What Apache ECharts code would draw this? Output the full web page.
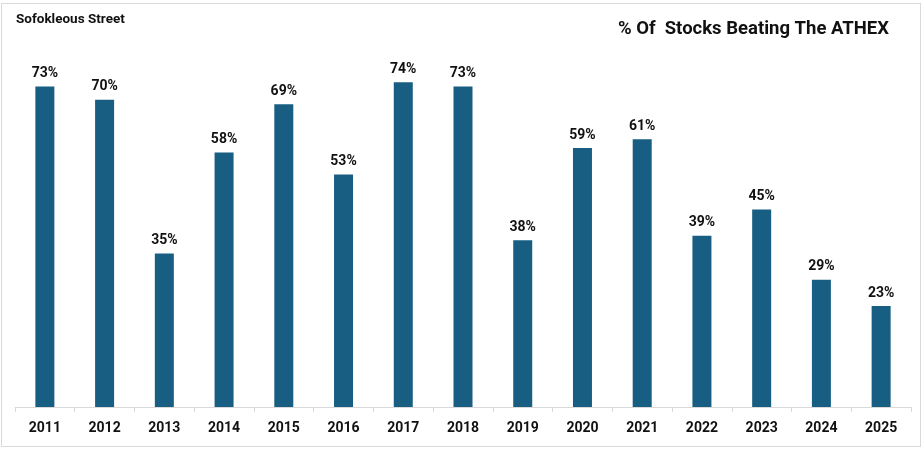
<!DOCTYPE html>
<html><head><meta charset="utf-8">
<script src="https://cdn.jsdelivr.net/npm/echarts@6/dist/echarts.min.js"></script>
<style>
html,body{margin:0;padding:0;background:#fff;}
#frame{position:absolute;left:1px;top:3px;width:918px;height:442px;border:1px solid #d9d9d9;}
#c{position:absolute;left:0;top:0;width:924px;height:449px;}
</style></head>
<body><div id="frame"></div><div id="c"></div>
<script>
const years = ['2011','2012','2013','2014','2015','2016','2017','2018','2019','2020','2021','2022','2023','2024','2025'];
const pctBeating = [73,70,35,58,69,53,74,73,38,59,61,39,45,29,23];
const sourceText = 'Sofokleous Street';
const titleText = '% Of  Stocks Beating The ATHEX';

const chart = echarts.init(document.getElementById('c'));
chart.setOption({
  animation:false,
  textStyle:{fontFamily:'Roboto, "Liberation Sans", sans-serif'},
  title:[
    {text:sourceText,left:11,top:8,textStyle:{fontSize:13.5,fontWeight:'bold',color:'#111',fontFamily:'Roboto, sans-serif'}},
    {text:titleText,right:30,top:15,textStyle:{fontSize:18.5,fontWeight:'bold',color:'#111',fontFamily:'Roboto, sans-serif'}}
  ],
  grid:{left:15,right:13,top:12,bottom:42,containLabel:false},
  xAxis:{type:'category',data:years,
    axisLine:{lineStyle:{color:'#d9d9d9',width:1}},
    axisTick:{show:true,length:5,lineStyle:{color:'#d9d9d9'}},
    axisLabel:{color:'#111',fontSize:14,fontWeight:'bold',margin:14}},
  yAxis:{type:'value',min:0,max:90,show:false,splitLine:{show:false}},
  series:[{type:'bar',data:pctBeating,barWidth:19,
    itemStyle:{color:'#175e82'},
    label:{show:true,position:'top',distance:6,formatter:'{c}%',color:'#111',fontSize:14,fontWeight:'bold'}}]
});
</script></body></html>
